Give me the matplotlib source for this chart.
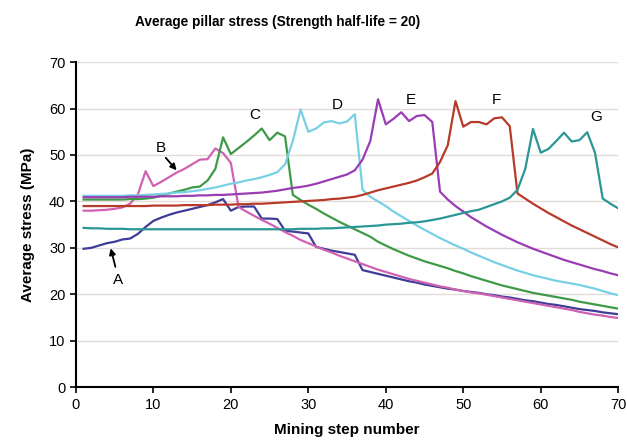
import matplotlib
matplotlib.use("Agg")
import matplotlib.pyplot as plt

# stress per mining step (MPa)
steps = list(range(1, 71))

stress_a = [29.8, 30.0, 30.5, 31.0, 31.3, 31.8, 32.0, 33.0, 34.5, 35.8,
            36.5, 37.1, 37.6, 38.0, 38.4, 38.8, 39.2, 39.8, 40.5, 38.0,
            38.8, 38.9, 38.9, 36.3, 36.3, 36.2, 33.7, 33.5, 33.3, 33.1,
            30.2, 29.8, 29.4, 29.1, 28.8, 28.5, 25.2, 24.8, 24.4, 24.0,
            23.6, 23.2, 22.8, 22.5, 22.1, 21.8, 21.5, 21.2, 21.0, 20.7,
            20.5, 20.3, 20.0, 19.8, 19.5, 19.3, 19.0, 18.7, 18.5, 18.2,
            17.9, 17.7, 17.4, 17.1, 16.8, 16.6, 16.4, 16.1, 15.9, 15.7]

stress_b = [38.0, 38.0, 38.1, 38.2, 38.4, 38.7, 39.5, 41.5, 46.5, 43.3,
            44.2, 45.2, 46.2, 47.0, 48.0, 49.0, 49.1, 51.4, 50.4, 48.3,
            38.8, 37.8, 36.9, 36.0, 35.2, 34.3, 33.4, 32.6, 31.7, 31.0,
            30.3, 29.6, 29.0, 28.3, 27.7, 27.1, 26.5, 25.9, 25.3, 24.8,
            24.3, 23.8, 23.3, 22.9, 22.5, 22.1, 21.7, 21.4, 21.0, 20.7,
            20.4, 20.2, 19.9, 19.6, 19.3, 19.0, 18.7, 18.4, 18.1, 17.8,
            17.5, 17.2, 16.9, 16.6, 16.2, 15.9, 15.6, 15.4, 15.1, 14.9]

stress_c = [40.4, 40.4, 40.4, 40.4, 40.4, 40.4, 40.5, 40.5, 40.6, 40.8,
            41.2, 41.7, 42.1, 42.5, 43.0, 43.2, 44.5, 47.0, 53.8, 50.2,
            51.5, 52.8, 54.2, 55.7, 53.2, 54.8, 54.0, 41.4, 40.3, 39.3,
            38.4, 37.4, 36.5, 35.6, 34.8, 34.0, 33.2, 32.4, 31.3, 30.5,
            29.7, 29.0, 28.3, 27.7, 27.1, 26.6, 26.1, 25.6, 25.0, 24.5,
            23.9, 23.4, 22.9, 22.4, 21.9, 21.5, 21.1, 20.7, 20.3, 20.0,
            19.7, 19.4, 19.1, 18.8, 18.4, 18.1, 17.8, 17.5, 17.2, 16.9]

stress_d = [41.2, 41.2, 41.2, 41.2, 41.2, 41.2, 41.3, 41.3, 41.4, 41.5,
            41.6, 41.7, 41.9, 42.0, 42.2, 42.4, 42.7, 43.0, 43.4, 43.8,
            44.1, 44.5, 44.8, 45.2, 45.7, 46.3, 48.0, 53.0, 59.8, 55.0,
            55.7, 57.0, 57.3, 56.8, 57.2, 58.8, 42.5, 41.0, 40.0, 39.0,
            37.8, 36.8, 35.8, 34.8, 33.9, 33.0, 32.1, 31.3, 30.5, 29.8,
            29.0, 28.3, 27.6, 26.9, 26.3, 25.7, 25.1, 24.6, 24.1, 23.7,
            23.3, 22.9, 22.6, 22.3, 22.0, 21.6, 21.2, 20.7, 20.2, 19.8]

stress_e = [40.9, 40.9, 40.9, 40.9, 40.9, 40.9, 41.0, 41.0, 41.0, 41.0,
            41.1, 41.1, 41.1, 41.2, 41.2, 41.3, 41.3, 41.4, 41.4, 41.5,
            41.6, 41.7, 41.8, 41.9, 42.1, 42.3, 42.6, 42.9, 43.1, 43.4,
            43.8, 44.3, 44.8, 45.3, 45.8, 46.7, 49.0, 53.0, 62.0, 56.6,
            57.8, 59.2, 57.3, 58.4, 58.6, 57.1, 42.1, 40.4, 39.0, 37.8,
            36.6, 35.6, 34.6, 33.7, 32.8, 32.0, 31.2, 30.5, 29.8, 29.2,
            28.6, 28.0, 27.4, 26.9, 26.4, 25.9, 25.4, 25.0, 24.5, 24.1]

stress_f = [39.0, 39.0, 39.0, 39.0, 39.0, 39.0, 39.0, 39.0, 39.0, 39.1,
            39.1, 39.1, 39.1, 39.2, 39.2, 39.2, 39.2, 39.3, 39.3, 39.3,
            39.4, 39.4, 39.5, 39.5, 39.6, 39.7, 39.8, 39.9, 40.0, 40.1,
            40.2, 40.3, 40.5, 40.6, 40.8, 41.0, 41.4, 41.9, 42.4, 42.8,
            43.2, 43.6, 44.0, 44.5, 45.2, 46.0, 48.5, 52.1, 61.6, 56.1,
            57.1, 57.1, 56.6, 57.9, 58.1, 56.2, 41.7, 40.6, 39.5, 38.5,
            37.5, 36.6, 35.7, 34.8, 34.0, 33.2, 32.4, 31.6, 30.8, 30.1]

stress_g = [34.3, 34.2, 34.2, 34.1, 34.1, 34.1, 34.0, 34.0, 34.0, 34.0,
            34.0, 34.0, 34.0, 34.0, 34.0, 34.0, 34.0, 34.0, 34.0, 34.0,
            34.0, 34.0, 34.0, 34.0, 34.0, 34.0, 34.0, 34.0, 34.1, 34.1,
            34.1, 34.2, 34.2, 34.3, 34.4, 34.5, 34.6, 34.7, 34.8, 35.0,
            35.1, 35.2, 35.4, 35.5, 35.7, 36.0, 36.3, 36.7, 37.1, 37.5,
            37.9, 38.2, 38.8, 39.4, 40.0, 40.8, 42.5, 47.0, 55.6, 50.5,
            51.3, 53.0, 54.8, 52.9, 53.2, 54.9, 50.5, 40.6, 39.5, 38.5]

series = [stress_a, stress_b, stress_c, stress_d, stress_e, stress_f, stress_g]
colors = ['#3d3d98', '#d062b4', '#3f9a48', '#78d0e4', '#9a3db4', '#b83a2a', '#2b9696']

plt.rcParams['font.family'] = ['Liberation Sans', 'DejaVu Sans']

fig = plt.figure(figsize=(6.27, 4.47), dpi=100)
ax = fig.add_axes([0.121, 0.134, 0.865, 0.727])

for vals, c in zip(series, colors):
    ax.plot(steps, vals, color=c, linewidth=1.6)

ax.set_xlim(0, 70)
ax.set_ylim(0, 70)
ax.set_xticks(range(0, 71, 10))
ax.set_yticks(range(0, 71, 10))
ax.tick_params(labelsize=10.5, direction='out', length=4, width=1.2)
ax.yaxis.grid(True, color='#e3dbd8', linewidth=1)
ax.set_axisbelow(True)
for s in ['top', 'right']:
    ax.spines[s].set_visible(False)
for s in ['left', 'bottom']:
    ax.spines[s].set_linewidth(1.5)

ax.set_xlabel('Mining step number', fontsize=11, fontweight='bold', labelpad=8)
ax.set_ylabel('Average stress (MPa)', fontsize=11, fontweight='bold', labelpad=10)
fig.text(0.442, 0.951, 'Average pillar stress (Strength half-life = 20)',
         ha='center', va='center', fontsize=9.8, fontweight='bold')

# curve labels
arrow = dict(arrowstyle='-|>', color='black', lw=1.3, mutation_scale=9,
             shrinkA=0, shrinkB=0)
ax.text(5.4, 23, 'A', fontsize=11, ha='center', va='center')
ax.annotate('', xy=(4.5, 29.9), xytext=(5.1, 25.9), arrowprops=arrow)
ax.text(10.9, 51.6, 'B', fontsize=11, ha='center', va='center')
ax.annotate('', xy=(13.0, 46.7), xytext=(11.6, 49.4), arrowprops=arrow)
for lab, x, y in [('C', 23.1, 58.6), ('D', 33.8, 60.7), ('E', 43.2, 61.8),
                  ('F', 54.3, 61.8), ('G', 67.1, 58.2)]:
    ax.text(x, y, lab, fontsize=11, ha='center', va='center')

fig.savefig('out.png', dpi=100)
